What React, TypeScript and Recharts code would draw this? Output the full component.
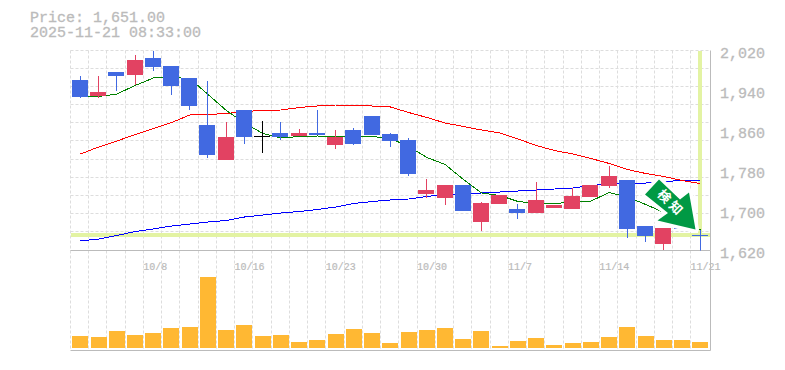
import { Bar, BarChart, CartesianGrid, ComposedChart, Line, ReferenceLine, XAxis, YAxis } from "recharts";

const DATES = [
  "10/2", "10/3", "10/6", "10/7", "10/8", "10/9", "10/10", "10/14", "10/15", "10/16",
  "10/17", "10/20", "10/21", "10/22", "10/23", "10/24", "10/27", "10/28", "10/29", "10/30",
  "10/31", "11/4", "11/5", "11/6", "11/7", "11/10", "11/11", "11/12", "11/13", "11/14",
  "11/17", "11/18", "11/19", "11/20", "11/21",
];
const DATE_TICKS = ["10/8", "10/16", "10/23", "10/30", "11/7", "11/14", "11/21"];
const PRICE_TICKS = [1620, 1700, 1780, 1860, 1940, 2020];

const OPEN = [1961, 1929, 1977, 1971, 2005, 1989, 1965, 1871, 1801, 1901, 1849, 1855, 1849, 1855, 1831, 1861, 1889, 1853, 1841, 1733, 1725, 1751, 1677, 1713, 1703, 1695, 1705, 1703, 1727, 1749, 1761, 1669, 1633, 1721, 1652];
const CLOSE = [1927, 1937, 1969, 2001, 1987, 1949, 1909, 1811, 1847, 1847, 1849, 1847, 1855, 1851, 1847, 1833, 1851, 1839, 1773, 1741, 1751, 1699, 1715, 1731, 1695, 1721, 1711, 1729, 1751, 1769, 1663, 1649, 1665, 1663, 1651];
const HIGH = [1969, 1969, 1977, 2011, 2020, 1989, 1965, 1959, 1877, 1901, 1879, 1877, 1863, 1901, 1861, 1865, 1889, 1855, 1845, 1763, 1751, 1751, 1717, 1731, 1713, 1757, 1711, 1745, 1751, 1789, 1761, 1669, 1665, 1721, 1661];
const LOW = [1925, 1925, 1939, 1951, 1979, 1931, 1901, 1805, 1801, 1833, 1815, 1841, 1849, 1851, 1823, 1831, 1851, 1827, 1769, 1725, 1711, 1699, 1659, 1713, 1683, 1695, 1705, 1703, 1727, 1745, 1645, 1637, 1621, 1663, 1620];
const MA_SHORT = [1928, 1928, 1933, 1950, 1965, 1966, 1964, 1932, 1900, 1875, 1854, 1845, 1848, 1849, 1848, 1848, 1848, 1844, 1828, 1806, 1792, 1762, 1735, 1730, 1718, 1714, 1714, 1717, 1719, 1736, 1727, 1712, 1696, 1676, 1661];
const MA_MID = [1813, 1827, 1839, 1852, 1864, 1876, 1891, 1892, 1894, 1898, 1900, 1901, 1906, 1909, 1911, 1911, 1909, 1907, 1896, 1886, 1875, 1868, 1861, 1855, 1843, 1830, 1820, 1813, 1804, 1794, 1782, 1774, 1768, 1760, 1754];
const MA_LONG = [1639, 1643, 1650, 1658, 1663, 1669, 1673, 1677, 1680, 1687, 1691, 1695, 1698, 1702, 1707, 1714, 1718, 1721, 1723, 1728, 1732, 1733, 1735, 1737, 1739, 1741, 1743, 1745, 1750, 1753, 1755, 1755, 1758, 1760, 1761];
const VOLUME = [12, 11, 17, 13, 15, 20, 21, 71, 18, 23, 12, 13, 6, 8, 14, 19, 15, 5, 16, 18, 20, 9, 17, 2, 7, 10, 3, 5, 6, 11, 21, 12, 8, 8, 6];

const LAST_PRICE_LINE = 1652;

const UP_COLOR = "#e24262";
const DOWN_COLOR = "#4169e1";
const GRID_COLOR = "#dddddd";
const AXIS_COLOR = "#bbbbbb";
const TEXT_COLOR = "#bbbbbb";
const NOW_COLOR = "#e3f3a3";
const FONT = "'Liberation Mono', monospace";

const WIDTH = 785;
const PLOT_LEFT = 70.5;
const RIGHT_WIDTH = 74.5;
const X_PADDING = { left: 0.8, right: 0.94 };
const STEP_X = 18.25;
const STEP_Y = 200 / 11;

const priceData = DATES.map((date, i) => ({
  date,
  open: OPEN[i],
  close: CLOSE[i],
  high: HIGH[i],
  low: LOW[i],
  short: MA_SHORT[i],
  mid: MA_MID[i],
  long: MA_LONG[i],
}));
const volumeData = DATES.map((date, i) => ({ date, volume: VOLUME[i] }));

const verticalLines = DATES.map((_, i) => Math.floor(70.3 + STEP_X * i) + 0.5);
const horizontalLines = Array.from({ length: 12 }, (_, i) => Math.floor(50 + STEP_Y * i) + 0.5);

function Candle(props: any) {
  const { x, y, width, height, payload } = props;
  const { open, close, high, low } = payload;
  const perPrice = high === low ? 0 : height / (high - low);
  const wickX = Math.floor(x + width / 2) + 0.5;
  const left = Math.floor(x + width / 2) - 8;
  const bodyTop = y + (high - Math.max(open, close)) * perPrice;
  const bodyHeight = Math.max(Math.abs(open - close) * perPrice, 1);
  const color = close > open ? UP_COLOR : close < open ? DOWN_COLOR : "#000000";
  return (
    <g shapeRendering="crispEdges">
      <line x1={wickX} x2={wickX} y1={y} y2={y + height} stroke={color} strokeWidth={1} />
      <rect x={left} y={bodyTop} width={16} height={bodyHeight} fill={color} />
    </g>
  );
}

function DateTick({ x, y, payload }: any) {
  return (
    <text x={x - 10} y={y + 11} fontFamily={FONT} fontSize={10} fill={TEXT_COLOR} stroke={TEXT_COLOR} strokeWidth={0.2}>
      {payload.value}
    </text>
  );
}

function PriceTick({ y, payload }: any) {
  return (
    <text x={720} y={y + 7} fontFamily={FONT} fontSize={15} fill={TEXT_COLOR} stroke={TEXT_COLOR} strokeWidth={0.3}>
      {payload.value.toLocaleString("en-US")}
    </text>
  );
}

function SignalArrow() {
  const points = "659,179.5 645,194.5 668,213 657.5,220.5 695.5,229.5 689,192.5 680,199.5";
  return (
    <svg width={WIDTH} height={370} style={{ position: "absolute", left: 0, top: 0, pointerEvents: "none" }}>
      <polygon points={points} fill="#ffffff" stroke="#ffffff" strokeWidth={7} strokeLinejoin="round" />
      <polygon points={points} fill="#009944" />
      <g fontFamily="'Noto Sans CJK JP'" fontWeight={700} fontSize={13} fill="#ffffff" textAnchor="middle">
        <text transform="translate(661 199.5) rotate(45)">検</text>
        <text transform="translate(672.5 211) rotate(45)">知</text>
      </g>
    </svg>
  );
}

export default function App() {
  return (
    <div style={{ position: "absolute", left: 0, top: 0, width: WIDTH, height: 370, background: "#ffffff" }}>
      <div
        style={{
          position: "absolute",
          left: 30,
          top: 11,
          fontFamily: FONT,
          fontSize: 15,
          lineHeight: "15px",
          color: TEXT_COLOR,
          WebkitTextStroke: `0.3px ${TEXT_COLOR}`,
        }}
      >
        <div>Price: 1,651.00</div>
        <div>2025-11-21 08:33:00</div>
      </div>
      <div style={{ position: "absolute", left: 0, top: 250 }}>
        <BarChart
          width={WIDTH}
          height={120}
          data={volumeData}
          margin={{ top: 0.5, right: 0, bottom: 0, left: PLOT_LEFT }}
        >
          <CartesianGrid stroke={GRID_COLOR} strokeDasharray="3 2" horizontal={false} verticalPoints={verticalLines} />
          <XAxis
            dataKey="date"
            height={19.5}
            padding={X_PADDING}
            tick={false}
            tickLine={false}
            axisLine={{ stroke: AXIS_COLOR }}
          />
          <YAxis
            orientation="right"
            width={RIGHT_WIDTH}
            domain={[-2.5, 97.5]}
            tick={false}
            tickLine={false}
            axisLine={{ stroke: AXIS_COLOR }}
          />
          <Bar dataKey="volume" fill="#ffb833" barSize={16} shapeRendering="crispEdges" isAnimationActive={false} />
        </BarChart>
      </div>
      <div style={{ position: "absolute", left: 0, top: 0 }}>
        <ComposedChart
          width={WIDTH}
          height={290}
          data={priceData}
          margin={{ top: 50.5, right: 0, bottom: 20, left: PLOT_LEFT }}
        >
          <CartesianGrid stroke={GRID_COLOR} strokeDasharray="3 2" verticalPoints={verticalLines} horizontalPoints={horizontalLines} />
          <XAxis
            dataKey="date"
            ticks={DATE_TICKS}
            interval={0}
            height={19.5}
            padding={X_PADDING}
            tick={<DateTick />}
            tickLine={false}
            axisLine={{ stroke: AXIS_COLOR }}
          />
          <YAxis
            orientation="right"
            width={RIGHT_WIDTH}
            domain={[1620, 2020]}
            ticks={PRICE_TICKS}
            allowDataOverflow
            tick={<PriceTick />}
            tickLine={false}
            axisLine={{ stroke: AXIS_COLOR }}
          />
          <ReferenceLine y={LAST_PRICE_LINE} stroke={NOW_COLOR} strokeWidth={4} shapeRendering="crispEdges" zIndex={100} />
          <ReferenceLine
            segment={[{ x: "11/21", y: 2020 }, { x: "11/21", y: LAST_PRICE_LINE }]}
            stroke={NOW_COLOR}
            strokeWidth={4}
            shapeRendering="crispEdges"
            zIndex={100}
          />
          <Line dataKey="long" stroke="#0000ff" strokeWidth={1} dot={false} shapeRendering="crispEdges" zIndex={200} isAnimationActive={false} />
          <Line dataKey="mid" stroke="#ff0000" strokeWidth={1} dot={false} shapeRendering="crispEdges" zIndex={200} isAnimationActive={false} />
          <Line dataKey="short" stroke="#008000" strokeWidth={1} dot={false} shapeRendering="crispEdges" zIndex={200} isAnimationActive={false} />
          <Bar dataKey={(d: any) => [d.low, d.high]} barSize={16} shape={<Candle />} zIndex={500} isAnimationActive={false} />
        </ComposedChart>
      </div>
      <SignalArrow />
    </div>
  );
}
